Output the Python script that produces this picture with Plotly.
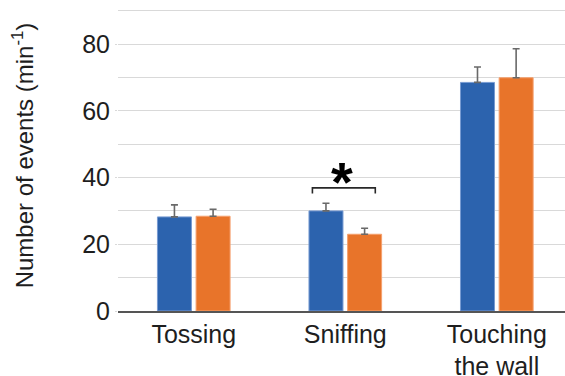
import plotly.graph_objects as go

categories = ["Tossing", "Sniffing", "Touching<br>the wall"]
group_a = [28.2, 30.0, 68.5]
group_a_err = [3.6, 2.3, 4.6]
group_b = [28.4, 23.0, 69.9]
group_b_err = [2.1, 1.8, 8.7]

BLUE = "rgb(44,99,174)"
ORANGE = "rgb(232,116,42)"
ERR = "rgb(105,105,105)"
GRID = "rgb(217,217,217)"
FONT = "Liberation Sans, Arial, Helvetica, sans-serif"

fig = go.Figure()
fig.add_trace(go.Bar(
    x=categories, y=group_a, marker=dict(color=BLUE, line=dict(color="rgb(120,155,210)", width=1)),
    error_y=dict(type="data", array=group_a_err, arrayminus=[0, 0, 0], symmetric=False,
                 color=ERR, thickness=1.6, width=3.5),
))
fig.add_trace(go.Bar(
    x=categories, y=group_b, marker=dict(color=ORANGE, line=dict(color="rgb(245,160,110)", width=1)),
    error_y=dict(type="data", array=group_b_err, arrayminus=[0, 0, 0], symmetric=False,
                 color=ERR, thickness=1.6, width=3.5),
))

# significance bracket over Sniffing
bx0, bx1, by_top, by_bot = 0.783, 1.198, 36.9, 35.2
fig.add_shape(type="path", xref="x", yref="y",
              path=f"M {bx0} {by_bot} L {bx0} {by_top} L {bx1} {by_top} L {bx1} {by_bot}",
              line=dict(color="rgb(40,40,40)", width=1.6))
fig.add_annotation(x=(bx0 + bx1) / 2 - 0.01, y=by_top, xref="x", yref="y", text="<b>*</b>",
                   showarrow=False, yanchor="bottom", yshift=-27,
                   font=dict(family=FONT, size=56, color="black"))

fig.update_layout(
    width=565, height=376,
    margin=dict(l=118, r=0, t=0, b=65),
    paper_bgcolor="white", plot_bgcolor="white",
    showlegend=False,
    barmode="group", bargap=0.49, bargroupgap=0.12,
    font=dict(family=FONT, color="rgb(30,30,30)"),
    xaxis=dict(range=[-0.5, 2.45], showline=True, linecolor="rgb(85,85,85)", linewidth=1.5,
               ticks="", ticklen=0, automargin=False,
               tickfont=dict(size=25), showgrid=False),
    yaxis=dict(range=[0, 93.2], tick0=0, dtick=20, automargin=False,
               showgrid=True, gridcolor=GRID, gridwidth=1.2,
               minor=dict(dtick=10, showgrid=True, gridcolor=GRID, gridwidth=1.2),
               zeroline=False, showline=False,
               ticks="outside", ticklen=2, tickcolor=GRID,
               tickfont=dict(size=25),
               title=dict(text="Number of events (min<sup>-1</sup>)", font=dict(size=24), standoff=41)),
)

fig.write_html("out.html")
